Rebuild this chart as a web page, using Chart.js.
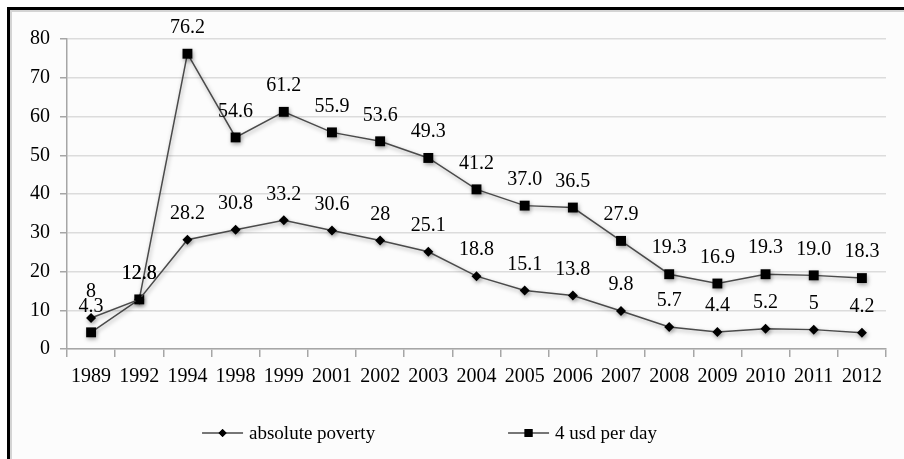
<!DOCTYPE html>
<html>
<head>
<meta charset="utf-8">
<script src="https://cdn.jsdelivr.net/npm/chart.js@4.4.1/dist/chart.umd.min.js"></script>
<style>
  html, body { margin: 0; padding: 0; background: #fff; overflow: hidden; width: 904px; height: 459px; }
  .frame {
    position: absolute; left: 7px; top: 7px; width: 1000px; height: 600px;
    border-left: 3px solid #000; border-top: 3px solid #000;
    background: #fcfcfc; box-shadow: inset 2px 2px 0 #d4d4d4;
  }
  #chart { position: absolute; left: 0; top: 0; }
</style>
</head>
<body>
<div class="frame"></div>
<canvas id="chart" width="904" height="459"></canvas>
<script>
// Years on the horizontal axis
const years = ['1989','1992','1994','1998','1999','2001','2002','2003','2004','2005','2006','2007','2008','2009','2010','2011','2012'];
// Share of population (%)
const absolutePoverty = [8, 12.8, 28.2, 30.8, 33.2, 30.6, 28, 25.1, 18.8, 15.1, 13.8, 9.8, 5.7, 4.4, 5.2, 5, 4.2];
const fourUsdPerDay = [4.3, 12.8, 76.2, 54.6, 61.2, 55.9, 53.6, 49.3, 41.2, 37.0, 36.5, 27.9, 19.3, 16.9, 19.3, 19.0, 18.3];
const yTicks = [0, 10, 20, 30, 40, 50, 60, 70, 80];

const FONT = '"Liberation Serif", "DejaVu Serif", serif';

// soft shadow under lines and markers
const shadowPlugin = {
  id: 'shadow',
  beforeDatasetDraw(chart) {
    const ctx = chart.ctx;
    ctx.save();
    ctx.shadowColor = 'rgba(0,0,0,0.35)';
    ctx.shadowBlur = 4;
    ctx.shadowOffsetX = 1;
    ctx.shadowOffsetY = 2;
  },
  afterDatasetDraw(chart) {
    chart.ctx.restore();
  }
};

// value labels above each point
const valueLabels = {
  id: 'valueLabels',
  afterDatasetsDraw(chart) {
    const ctx = chart.ctx;
    ctx.save();
    ctx.font = '20px ' + FONT;
    ctx.fillStyle = '#000';
    ctx.textAlign = 'center';
    ctx.textBaseline = 'middle';
    chart.data.datasets.forEach((ds, i) => {
      const meta = chart.getDatasetMeta(i);
      meta.data.forEach((pt, j) => {
        ctx.fillText(ds.labelFormat(ds.data[j]), pt.x, pt.y - 26);
      });
    });
    ctx.restore();
  }
};

// legend: line with marker, followed by the series name
const lineLegend = {
  id: 'lineLegend',
  afterDraw(chart) {
    const ctx = chart.ctx;
    const y = chart.height - 26;
    const starts = [chart.width * 0.2235, chart.width * 0.562];
    ctx.save();
    ctx.font = '19px ' + FONT;
    ctx.textBaseline = 'middle';
    ctx.textAlign = 'left';
    chart.data.datasets.forEach((ds, i) => {
      const x0 = starts[i];
      const x1 = x0 + 41;
      ctx.strokeStyle = ds.borderColor;
      ctx.lineWidth = 1.5;
      ctx.beginPath();
      ctx.moveTo(x0, y);
      ctx.lineTo(x1, y);
      ctx.stroke();
      Chart.helpers.drawPoint(ctx, {
        pointStyle: ds.pointStyle,
        radius: ds.pointRadius * 0.8,
        borderWidth: 0
      }, (x0 + x1) / 2, y);
      ctx.fillStyle = '#000';
      ctx.fill();
      ctx.fillText(ds.label, x1 + 6, y + 1);
    });
    ctx.restore();
  }
};

new Chart(document.getElementById('chart'), {
  type: 'line',
  data: {
    labels: years,
    datasets: [
      {
        label: 'absolute poverty',
        data: absolutePoverty,
        labelFormat: v => String(v),
        borderColor: '#4a4a4a',
        borderWidth: 1.5,
        pointStyle: 'rectRot',
        pointRadius: 5,
        pointBackgroundColor: '#000',
        pointBorderColor: '#000',
        pointBorderWidth: 0,
        tension: 0
      },
      {
        label: '4 usd per day',
        data: fourUsdPerDay,
        labelFormat: v => v.toFixed(1),
        borderColor: '#4a4a4a',
        borderWidth: 1.5,
        pointStyle: 'rect',
        pointRadius: 7,
        pointBackgroundColor: '#000',
        pointBorderColor: '#000',
        pointBorderWidth: 0,
        tension: 0
      }
    ]
  },
  options: {
    responsive: false,
    animation: false,
    layout: { padding: { left: 10, right: 18, top: 39, bottom: 55 } },
    plugins: {
      legend: { display: false },
      tooltip: { enabled: false }
    },
    scales: {
      x: {
        offset: true,
        grid: { display: true, drawOnChartArea: false, drawTicks: true, tickLength: 8, offset: true, tickColor: '#a6a6a6', lineWidth: 1.5 },
        border: { color: '#a6a6a6', width: 1.5 },
        ticks: { color: '#000', font: { family: FONT, size: 20 }, padding: 8, maxRotation: 0, autoSkip: false },
        afterFit(scale) { scale.height = 55; }
      },
      y: {
        min: 0,
        max: 80,
        afterBuildTicks(scale) { scale.ticks = yTicks.map(v => ({ value: v })); },
        grid: { color: '#dcdcdc', lineWidth: 1.5, tickLength: 7, tickColor: '#a6a6a6' },
        border: { color: '#a6a6a6', width: 1.5 },
        ticks: { color: '#000', font: { family: FONT, size: 20 }, padding: 10 },
        afterFit(scale) { scale.width = 57; }
      }
    }
  },
  plugins: [shadowPlugin, valueLabels, lineLegend]
});
</script>
</body>
</html>
